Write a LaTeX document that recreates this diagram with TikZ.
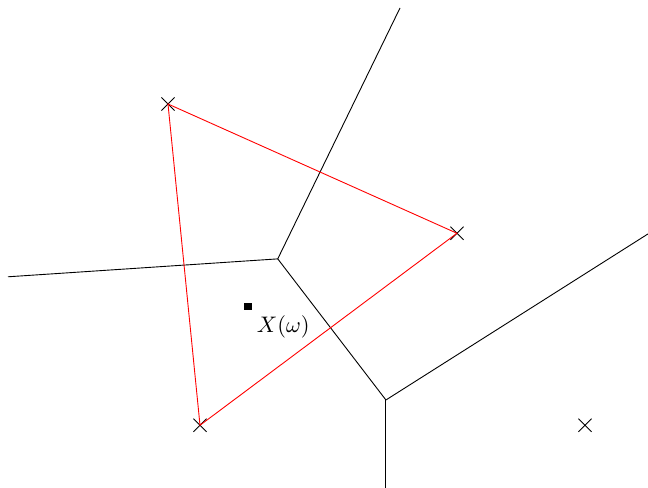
\documentclass[tikz,border=0pt]{standalone}
\usetikzlibrary{shapes.misc,positioning}

\begin{document}
\begin{tikzpicture}[site/.style={cross out, draw, minimum size=0.19cm, inner sep=0pt}]
\useasboundingbox (0,0) rectangle (10.125,7.625);
% sites
\node[site] (a) at (2.625,6.0) {};
\node[site] (b) at (7.14,3.98) {};
\node[site] (c) at (3.125,0.98) {};
\node[site] (d) at (9.14,0.98) {};
% Voronoi edges
\coordinate (v1) at (4.34,3.58);
\coordinate (v2) at (6.03,1.375);
\coordinate (top) at (6.25,7.5);
\coordinate (left) at (0.125,3.30);
\coordinate (right) at (10.125,3.97);
\coordinate (bot) at (6.03,0);
\draw (top) -- (v1) -- (left);
\draw (v1) -- (v2) -- (right);
\draw (v2) -- (bot);
% Delaunay triangle
\draw[red] (a.center) -- (b.center) -- (c.center) -- cycle;
% point
\node[fill, minimum size=0.11cm, inner sep=0pt] (x) at (3.875,2.84) {};
\node[below right=0pt of x.south east, inner sep=2pt] (xl) {$X(\omega)$};
\end{tikzpicture}
\end{document}
